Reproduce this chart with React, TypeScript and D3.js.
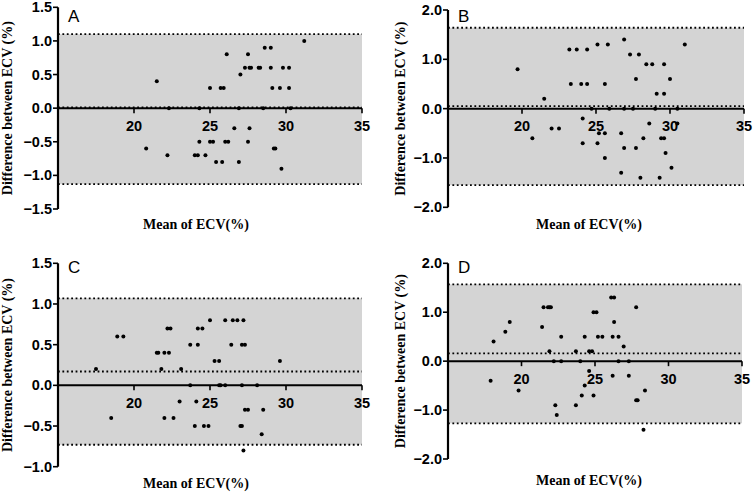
import React from "react";
import * as d3 from "d3";

// ---- data (mean of ECV %, difference %) ----
const pointsA: [number, number][] = [
  [31.2, 1.0], [28.6, 0.9], [29.0, 0.9], [26.1, 0.8], [27.5, 0.8],
  [27.3, 0.6], [27.6, 0.6], [27.7, 0.6], [28.2, 0.6], [28.3, 0.6], [29.0, 0.6], [29.8, 0.6], [30.2, 0.6],
  [27.0, 0.5], [21.5, 0.4],
  [25.0, 0.3], [25.7, 0.3], [25.9, 0.3], [29.1, 0.3], [29.6, 0.3], [30.2, 0.3],
  [22.3, 0], [24.3, 0], [26.9, 0], [28.5, 0], [30.3, 0],
  [26.6, -0.3], [27.6, -0.3], [20.8, -0.6],
  [24.3, -0.5], [25.0, -0.5], [25.2, -0.5], [26.0, -0.5], [26.2, -0.5], [27.5, -0.5],
  [29.2, -0.6], [29.3, -0.6],
  [22.2, -0.7], [24.0, -0.7], [24.2, -0.7], [24.7, -0.7],
  [25.4, -0.8], [25.8, -0.8], [26.9, -0.8], [29.7, -0.9],
];
const pointsB: [number, number][] = [
  [19.7, 0.8], [21.5, 0.2], [23.2, 1.2], [23.7, 1.2], [24.4, 1.2], [25.1, 1.3], [25.8, 1.3],
  [26.9, 1.4], [31.0, 1.3], [27.3, 1.1], [27.9, 1.1], [28.4, 0.9], [28.8, 0.9], [29.6, 0.9],
  [23.3, 0.5], [24.0, 0.5], [24.4, 0.5], [25.6, 0.5], [27.7, 0.6], [30.0, 0.6], [29.1, 0.3], [29.6, 0.3],
  [24.7, 0], [25.9, 0], [26.9, 0], [27.5, 0], [29.0, 0], [30.5, 0],
  [24.1, -0.2], [28.6, -0.3], [30.5, -0.3], [22.0, -0.4], [22.5, -0.4], [20.7, -0.6],
  [25.2, -0.5], [25.6, -0.5], [26.7, -0.5], [24.1, -0.7], [25.1, -0.7],
  [28.2, -0.6], [29.4, -0.6], [29.6, -0.6], [26.9, -0.8], [27.7, -0.8], [25.6, -1.0],
  [29.7, -0.9], [30.1, -1.2], [26.7, -1.3], [28.0, -1.4], [29.3, -1.4],
];
const pointsC: [number, number][] = [
  [17.5, 0.2], [18.9, 0.6], [19.3, 0.6], [21.5, 0.4], [21.6, 0.4], [22.0, 0.4], [22.3, 0.4],
  [22.2, 0.7], [22.4, 0.7], [21.8, 0.2], [23.1, 0.2], [23.7, 0.5], [24.2, 0.5], [24.2, 0.7], [24.5, 0.7],
  [25.0, 0.8], [25.3, 0.3], [25.6, 0.3], [26.0, 0.8], [26.5, 0.8], [26.8, 0.8], [27.2, 0.8],
  [26.4, 0.5], [27.1, 0.5], [27.3, 0.5], [29.6, 0.3],
  [23.7, 0], [25.6, 0], [25.7, 0], [26.0, 0], [27.1, 0], [28.1, 0],
  [23.0, -0.2], [24.1, -0.2], [18.5, -0.4], [22.0, -0.4], [22.6, -0.4],
  [24.0, -0.5], [24.6, -0.5], [24.9, -0.5], [27.0, -0.5], [27.1, -0.5],
  [27.3, -0.3], [27.5, -0.3], [28.5, -0.3], [28.4, -0.6], [27.2, -0.8],
];
const pointsD: [number, number][] = [
  [17.9, -0.4], [18.1, 0.4], [18.9, 0.6], [19.2, 0.8], [19.8, -0.6],
  [21.4, 0.7], [21.5, 1.1], [21.8, 1.1], [21.9, 1.1], [22.0, 1.1], [21.9, 0.2], [22.2, 0], [22.7, 0], [22.7, 0.5],
  [22.3, -0.9], [22.4, -1.1], [23.7, -0.9], [23.7, 0.2], [24.0, 0], [24.3, 0.5], [24.1, -0.7], [24.3, -0.5], [24.6, -0.2],
  [24.6, 0.2], [24.8, 0.2], [24.9, -0.7], [24.9, 1.0], [25.1, 1.0], [25.2, 0.5], [25.5, 0.5],
  [26.1, 1.3], [26.3, 1.3], [26.3, 0.8], [26.2, 0.5], [26.6, 0.5], [26.6, 0], [26.2, -0.3], [26.95, 0.3], [27.3, 0], [27.3, -0.3],
  [27.8, 1.1], [27.8, -0.8], [27.9, -0.8], [28.4, -0.6], [28.3, -1.4],
];

// limits of agreement: [upper, bias, lower]
const limitsA = [1.1, 0.01, -1.13];
const limitsB = [1.64, 0.05, -1.55];
const limitsC = [1.07, 0.17, -0.73];
const limitsD = [1.57, 0.16, -1.27];

const xTicks = [20, 25, 30, 35];
const yTicksA = [-1.5, -1.0, -0.5, 0, 0.5, 1.0, 1.5];
const yTicksB = [-2, -1, 0, 1, 2];
const yTicksC = [-1.0, -0.5, 0, 0.5, 1.0, 1.5];
const yTicksD = [-2, -1, 0, 1, 2];

const xTitle = "Mean of ECV(%)";
const yTitle = "Difference between  ECV (%)";

type PanelProps = {
  label: string;
  points: [number, number][];
  limits: number[];
  yTicks: number[];
  left: number;
  right: number;
  top: number;
  bottom: number;
  yTitleX: number;
  xTitleX: number;
  xTitleY: number;
  labelY: number;
};

const tickFont = "'Liberation Sans', Arial, sans-serif";
const titleFont = "'Liberation Serif', 'Times New Roman', serif";

function Panel(p: PanelProps) {
  const x = d3.scaleLinear().domain([15, 35]).range([p.left, p.right]);
  const yMin = p.yTicks[0];
  const yMax = p.yTicks[p.yTicks.length - 1];
  const y = d3.scaleLinear().domain([yMin, yMax]).range([p.bottom, p.top]);
  const fmt = d3.format(".1f");
  const [up, bias, low] = p.limits;
  const dotted = { stroke: "#000", strokeWidth: 1.8, strokeDasharray: "1.8 2.6" };
  return (
    <g>
      <rect x={x(15)} y={y(up)} width={x(35) - x(15)} height={y(low) - y(up)} fill="#d4d4d4" />
      {[up, bias, low].map((v, i) => (
        <line key={i} x1={x(15)} x2={x(35)} y1={y(v)} y2={y(v)} {...dotted} />
      ))}
      <line x1={x(15)} x2={x(35)} y1={y(0)} y2={y(0)} stroke="#000" strokeWidth={2} />
      {xTicks.map((t) => (
        <g key={t}>
          <line x1={x(t)} x2={x(t)} y1={y(0)} y2={y(0) + 5} stroke="#000" strokeWidth={1.6} />
          <text x={x(t)} y={y(0) + 22.5} textAnchor="middle" fontFamily={tickFont} fontWeight="bold" fontSize={14.5}>
            {t}
          </text>
        </g>
      ))}
      <line x1={x(15)} x2={x(15)} y1={y(yMin)} y2={y(yMax)} stroke="#000" strokeWidth={2.2} />
      {p.yTicks.map((t) => (
        <g key={t}>
          <line x1={x(15) - 5} x2={x(15)} y1={y(t)} y2={y(t)} stroke="#000" strokeWidth={1.6} />
          <text x={x(15) - 6} y={y(t) + 5} textAnchor="end" fontFamily={tickFont} fontWeight="bold" fontSize={14.5}>
            {fmt(t)}
          </text>
        </g>
      ))}
      {p.points.map(([m, d], i) => (
        <circle key={i} cx={x(m)} cy={y(d)} r={2} fill="#000" />
      ))}
      <text x={x(15) + 10} y={p.labelY} fontFamily={tickFont} fontSize={17}>
        {p.label}
      </text>
      <text
        transform={`translate(${p.yTitleX},${(y(yMin) + y(yMax)) / 2}) rotate(-90)`}
        textAnchor="middle"
        fontFamily={titleFont}
        fontWeight="bold"
        fontSize={14}
      >
        {yTitle}
      </text>
      <text x={p.xTitleX} y={p.xTitleY} textAnchor="middle" fontFamily={titleFont} fontWeight="bold" fontSize={14}>
        {xTitle}
      </text>
    </g>
  );
}

export default function App() {
  return (
    <div style={{ position: "absolute", left: 0, top: 0 }}>
      <svg width={754} height={495} style={{ display: "block", background: "#fff" }}>
        <Panel label="A" points={pointsA} limits={limitsA} yTicks={yTicksA}
          left={58} right={362} top={7.3} bottom={209} yTitleX={12} xTitleX={196} xTitleY={229} labelY={22} />
        <Panel label="B" points={pointsB} limits={limitsB} yTicks={yTicksB}
          left={448} right={744} top={10} bottom={207.3} yTitleX={405} xTitleX={589} xTitleY={229} labelY={22} />
        <Panel label="C" points={pointsC} limits={limitsC} yTicks={yTicksC}
          left={58} right={362} top={263.3} bottom={466.7} yTitleX={12} xTitleX={196} xTitleY={488} labelY={273} />
        <Panel label="D" points={pointsD} limits={limitsD} yTicks={yTicksD}
          left={448} right={742} top={263.3} bottom={459} yTitleX={405} xTitleX={589} xTitleY={485} labelY={273} />
      </svg>
    </div>
  );
}
